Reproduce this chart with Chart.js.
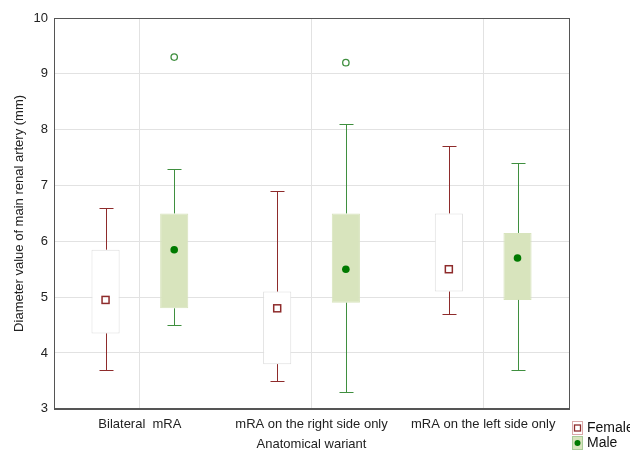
<!DOCTYPE html>
<html lang="en">
<head>
<meta charset="UTF-8">
<title>Diameter value of main renal artery</title>
<style>
  html, body { margin: 0; padding: 0; background: #fff; }
  #wrap { width: 630px; height: 450px; }
</style>
</head>
<body>
<div id="wrap"><canvas id="myChart"></canvas></div>

<script src="https://cdn.jsdelivr.net/npm/chart.js"></script>
<script>
// data
const categories = ['Bilateral  mRA', 'mRA on the right side only', 'mRA on the left side only'];
const yTicks = [3, 4, 5, 6, 7, 8, 9, 10];

const femaleBox = [[4.35, 5.85], [3.8, 5.1], [5.1, 6.5]];
const femaleWhisker = [[3.7, 6.6], [3.5, 6.9], [4.7, 7.7]];
const femaleCenter = [4.95, 4.8, 5.5];
const femaleOutliers = [[], [], []];

const maleBox = [[4.8, 6.5], [4.9, 6.5], [4.95, 6.15]];
const maleWhisker = [[4.5, 7.3], [3.3, 8.1], [3.7, 7.4]];
const maleCenter = [5.85, 5.5, 5.7];
const maleOutliers = [[9.3], [9.2], []];

const FONT = 'Liberation Sans, Arial, sans-serif';

function crisp(v) { return Math.round(v) + 0.5; }

function drawMarker(ctx, ds, x, y) {
   if (ds.marker === 'square') {
      ctx.fillStyle = '#fff';
      ctx.strokeStyle = ds.markerColor;
      ctx.lineWidth = 1.5;
      ctx.fillRect(x - 3.5, y - 3.5, 7, 7);
      ctx.strokeRect(x - 3.5, y - 3.5, 7, 7);
   } else {
      ctx.fillStyle = ds.markerColor;
      ctx.beginPath();
      ctx.arc(x, y, 3.8, 0, Math.PI * 2);
      ctx.fill();
   }
}

// whiskers, centre markers, outliers, frame and legend
const boxExtras = {
   id: 'boxExtras',
   afterDatasetsDraw(chart) {
      const ctx = chart.ctx;
      const ys = chart.scales.y;
      chart.data.datasets.forEach((ds, i) => {
         chart.getDatasetMeta(i).data.forEach((bar, j) => {
            const x = crisp(bar.x);
            const [lo, hi] = ds.whiskers[j];
            const [b0, b1] = ds.data[j];
            const yLo = crisp(ys.getPixelForValue(lo));
            const yHi = crisp(ys.getPixelForValue(hi));
            ctx.save();
            ctx.strokeStyle = ds.whiskerColor;
            ctx.lineWidth = 1;
            ctx.beginPath();
            ctx.moveTo(x, ys.getPixelForValue(b1));
            ctx.lineTo(x, yHi);
            ctx.moveTo(x - 7, yHi);
            ctx.lineTo(x + 7, yHi);
            ctx.moveTo(x, ys.getPixelForValue(b0));
            ctx.lineTo(x, yLo);
            ctx.moveTo(x - 7, yLo);
            ctx.lineTo(x + 7, yLo);
            ctx.stroke();

            drawMarker(ctx, ds, bar.x, ys.getPixelForValue(ds.centers[j]));

            ds.outliers[j].forEach(v => {
               ctx.strokeStyle = ds.whiskerColor;
               ctx.lineWidth = 1.3;
               ctx.beginPath();
               ctx.arc(bar.x, ys.getPixelForValue(v), 3.2, 0, Math.PI * 2);
               ctx.stroke();
            });
            ctx.restore();
         });
      });

      const a = chart.chartArea;
      ctx.save();
      ctx.strokeStyle = '#555';
      ctx.lineWidth = 1;
      ctx.strokeRect(crisp(a.left), crisp(a.top), Math.round(a.right - a.left), Math.round(a.bottom - a.top));
      ctx.restore();
   },
   afterDraw(chart) {
      const ctx = chart.ctx;
      const a = chart.chartArea;
      ctx.save();
      ctx.font = '14px ' + FONT;
      ctx.textBaseline = 'middle';
      chart.data.datasets.forEach((ds, i) => {
         const x0 = Math.round(a.right) + 3;
         const y0 = Math.round(a.bottom) + 12 + i * 15;
         ctx.fillStyle = ds.backgroundColor;
         ctx.fillRect(x0, y0, 10, 13);
         ctx.strokeStyle = ds.legendBorder;
         ctx.lineWidth = 1;
         ctx.strokeRect(x0 + 0.5, y0 + 0.5, 10, 13);
         if (ds.marker === 'square') {
            ctx.strokeStyle = ds.markerColor;
            ctx.lineWidth = 1.3;
            ctx.strokeRect(x0 + 2.5, y0 + 4, 6, 6);
         } else {
            ctx.fillStyle = ds.markerColor;
            ctx.beginPath();
            ctx.arc(x0 + 5.5, y0 + 7, 3, 0, Math.PI * 2);
            ctx.fill();
         }
         ctx.fillStyle = '#111';
         ctx.fillText(ds.label, x0 + 15, y0 + 7);
      });
      ctx.restore();
   }
};

new Chart(document.getElementById('myChart'), {
   type: 'bar',
   data: {
      labels: categories,
      datasets: [{
         label: 'Female',
         data: femaleBox,
         whiskers: femaleWhisker,
         centers: femaleCenter,
         outliers: femaleOutliers,
         backgroundColor: '#ffffff',
         borderColor: '#dedede',
         borderWidth: 1,
         borderSkipped: false,
         whiskerColor: '#8e2b2b',
         markerColor: '#8e2b2b',
         marker: 'square',
         legendBorder: '#d9a9a9'
      }, {
         label: 'Male',
         data: maleBox,
         whiskers: maleWhisker,
         centers: maleCenter,
         outliers: maleOutliers,
         backgroundColor: '#d8e4bd',
         borderColor: '#d8e4bd',
         borderWidth: 1,
         borderSkipped: false,
         whiskerColor: '#3f8f3f',
         markerColor: '#007a00',
         marker: 'circle',
         legendBorder: '#a9cc99'
      }]
   },
   options: {
      responsive: true,
      maintainAspectRatio: false,
      animation: false,
      categoryPercentage: 0.8,
      barPercentage: 0.41,
      layout: { padding: { left: 12, right: 61, top: 18, bottom: 0 } },
      plugins: {
         legend: { display: false },
         tooltip: { enabled: false }
      },
      scales: {
         x: {
            grid: { color: '#e2e2e2', offset: false, drawTicks: false },
            border: { color: '#555' },
            ticks: { font: { family: FONT, size: 13 }, color: '#222', padding: 8 },
            title: {
               display: true,
               text: 'Anatomical wariant',
               font: { family: FONT, size: 13 },
               color: '#222',
               padding: { top: -4, bottom: -2 }
            }
         },
         y: {
            min: 3,
            max: 10,
            afterBuildTicks(scale) { scale.ticks = yTicks.map(v => ({ value: v })); },
            grid: { color: '#e2e2e2', drawTicks: false },
            border: { color: '#555' },
            ticks: { font: { family: FONT, size: 13 }, color: '#222', padding: 6 },
            title: {
               display: true,
               text: 'Diameter value of main renal artery (mm)',
               font: { family: FONT, size: 13 },
               color: '#222',
               padding: { top: 0, bottom: 0 }
            }
         }
      }
   },
   plugins: [boxExtras]
});
</script>
</body>
</html>
